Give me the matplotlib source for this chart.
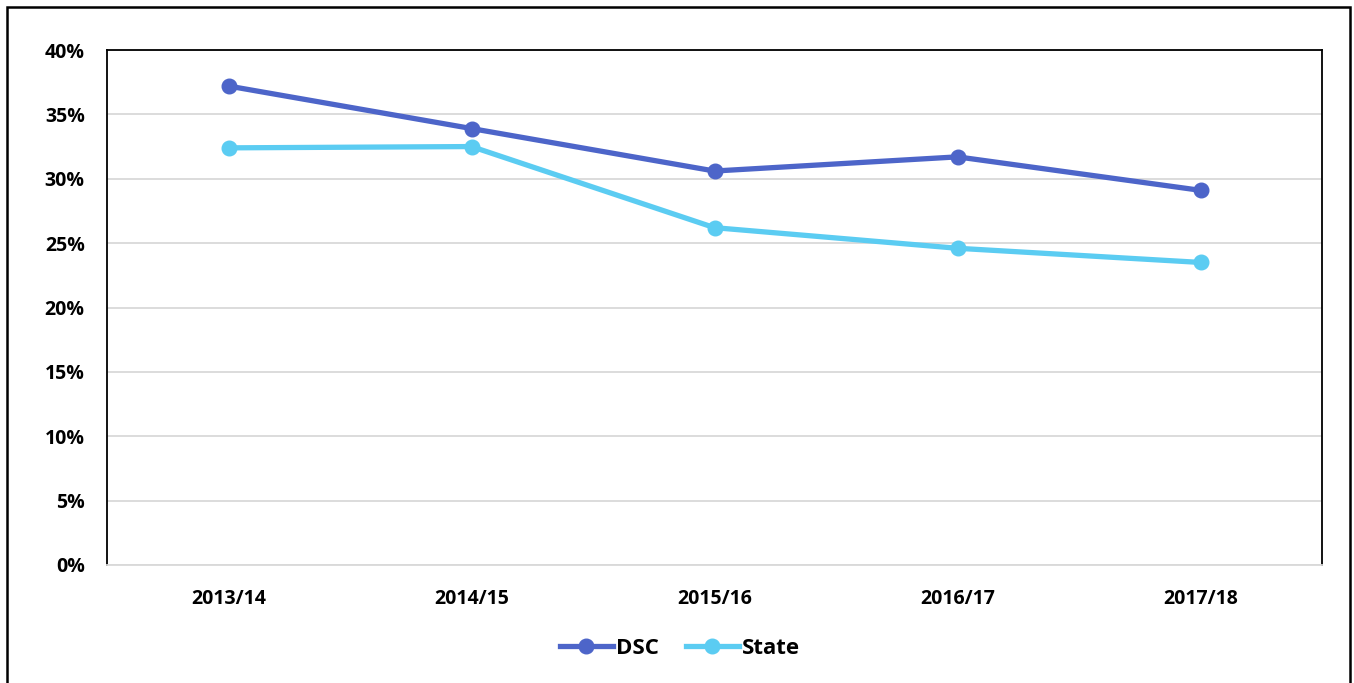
import matplotlib
matplotlib.use("Agg")
import matplotlib.pyplot as plt
from matplotlib.patches import Rectangle
from matplotlib.ticker import FuncFormatter

categories = ["2013/14", "2014/15", "2015/16", "2016/17", "2017/18"]
dsc = [37.2, 33.9, 30.6, 31.7, 29.1]
state = [32.4, 32.5, 26.2, 24.6, 23.5]
yticks = [0, 5, 10, 15, 20, 25, 30, 35, 40]

plt.rcParams['font.family'] = ['Open Sans', 'DejaVu Sans']

W, H = 1354, 683
fig = plt.figure(figsize=(W / 100, H / 100), dpi=100)
fig.patch.set_facecolor("white")

# outer frame
fig.patches.append(Rectangle((7 / W, -0.05), (1350 - 7) / W, 1.05 - 7 / H,
                             transform=fig.transFigure, fill=False,
                             edgecolor="black", linewidth=1.8))

left, right, top, bottom = 107, 1322, 50, 565
ax = fig.add_axes([left / W, 1 - bottom / H, (right - left) / W, (bottom - top) / H])

x = list(range(len(categories)))
c_dsc = "#4D65C9"
c_state = "#5BCCF2"
ax.plot(x, dsc, color=c_dsc, lw=3.8, marker="o", ms=10.5, label="DSC", zorder=3)
ax.plot(x, state, color=c_state, lw=3.8, marker="o", ms=10.5, label="State", zorder=3)

ax.set_xlim(-0.5, 4.5)
ax.set_ylim(0, 40)
ax.set_yticks(yticks)
ax.yaxis.set_major_formatter(FuncFormatter(lambda v, p: f"{int(v)}%"))
ax.set_xticks(x)
ax.set_xticklabels(categories)
ax.grid(axis="y", color="#D9D9D9", lw=1.3, zorder=0)
ax.set_axisbelow(True)
ax.tick_params(axis="both", length=0, labelsize=14)
ax.tick_params(axis="y", pad=16)
ax.tick_params(axis="x", pad=17)
for lbl in ax.get_xticklabels() + ax.get_yticklabels():
    lbl.set_fontweight("bold")
for s in ["top", "left", "right"]:
    ax.spines[s].set_color("black")
    ax.spines[s].set_linewidth(1.3)
ax.spines["bottom"].set_color("#D9D9D9")
ax.spines["bottom"].set_linewidth(1.3)

leg = fig.legend(loc="center", bbox_to_anchor=(680 / W, 1 - 648 / H), ncol=2,
                 frameon=False, prop={"size": 16, "weight": "bold"},
                 handlelength=2.4, handletextpad=0.15, columnspacing=1.2)

fig.savefig("out.png", dpi=100, facecolor="white")
